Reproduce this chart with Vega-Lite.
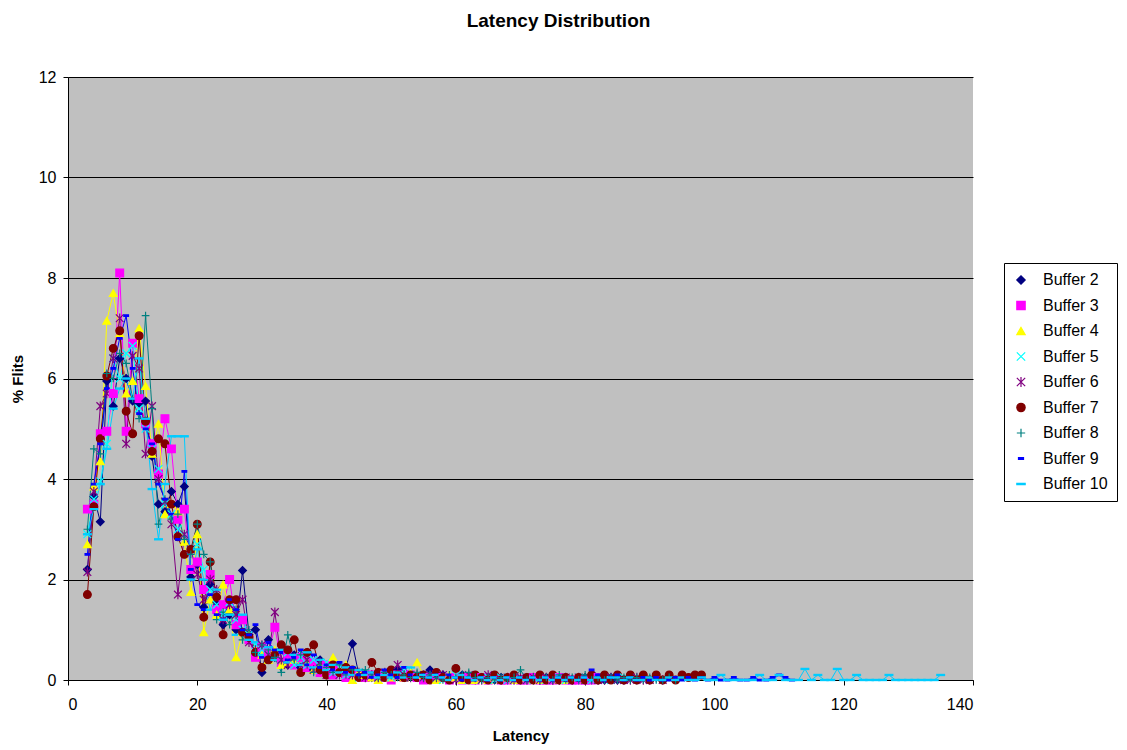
{
  "$schema": "https://vega.github.io/schema/vega-lite/v6.json",
  "width": 905,
  "height": 603,
  "autosize": {"type": "none"},
  "padding": {"left": 68, "top": 77, "right": 154, "bottom": 70},
  "background": "white",
  "title": {"text": "Latency Distribution", "font": "Liberation Sans", "fontSize": 19, "fontWeight": "bold", "color": "black", "anchor": "middle", "dx": 38, "offset": 38},
  "data": {"values": [
    {"L":3,"Buffer 2":2.2,"Buffer 3":3.4,"Buffer 4":2.7,"Buffer 5":2.9,"Buffer 6":2.15,"Buffer 7":1.7,"Buffer 8":3.0,"Buffer 9":2.5,"Buffer 10":2.9},
    {"L":4,"Buffer 2":3.65,"Buffer 3":3.5,"Buffer 4":3.85,"Buffer 5":3.6,"Buffer 6":3.75,"Buffer 7":3.45,"Buffer 8":4.6,"Buffer 9":3.9,"Buffer 10":3.4},
    {"L":5,"Buffer 2":3.15,"Buffer 3":4.9,"Buffer 4":4.35,"Buffer 5":3.95,"Buffer 6":5.45,"Buffer 7":4.8,"Buffer 8":4.5,"Buffer 9":4.7,"Buffer 10":3.9},
    {"L":6,"Buffer 2":5.95,"Buffer 3":4.95,"Buffer 4":7.15,"Buffer 5":4.7,"Buffer 6":5.7,"Buffer 7":6.05,"Buffer 8":6.1,"Buffer 9":5.8,"Buffer 10":4.6},
    {"L":7,"Buffer 2":5.45,"Buffer 3":5.7,"Buffer 4":7.7,"Buffer 5":6.4,"Buffer 6":6.4,"Buffer 7":6.6,"Buffer 8":6.0,"Buffer 9":6.2,"Buffer 10":5.4},
    {"L":8,"Buffer 2":6.4,"Buffer 3":8.1,"Buffer 4":6.9,"Buffer 5":6.0,"Buffer 6":7.2,"Buffer 7":6.95,"Buffer 8":6.5,"Buffer 9":6.8,"Buffer 10":5.8},
    {"L":9,"Buffer 2":6.0,"Buffer 3":4.95,"Buffer 4":5.7,"Buffer 5":6.5,"Buffer 6":4.7,"Buffer 7":5.35,"Buffer 8":6.3,"Buffer 9":7.25,"Buffer 10":6.0},
    {"L":10,"Buffer 2":5.55,"Buffer 3":6.7,"Buffer 4":5.95,"Buffer 5":6.65,"Buffer 6":6.45,"Buffer 7":4.9,"Buffer 8":5.6,"Buffer 9":6.2,"Buffer 10":5.6},
    {"L":11,"Buffer 2":5.5,"Buffer 3":5.6,"Buffer 4":7.0,"Buffer 5":5.4,"Buffer 6":6.2,"Buffer 7":6.85,"Buffer 8":5.2,"Buffer 9":5.3,"Buffer 10":6.4},
    {"L":12,"Buffer 2":5.55,"Buffer 3":5.1,"Buffer 4":5.85,"Buffer 5":5.0,"Buffer 6":4.5,"Buffer 7":5.15,"Buffer 8":7.25,"Buffer 9":5.0,"Buffer 10":5.2},
    {"L":13,"Buffer 2":4.45,"Buffer 3":4.7,"Buffer 4":4.5,"Buffer 5":4.6,"Buffer 6":5.45,"Buffer 7":4.55,"Buffer 8":5.4,"Buffer 9":4.7,"Buffer 10":3.8},
    {"L":14,"Buffer 2":3.5,"Buffer 3":4.1,"Buffer 4":5.1,"Buffer 5":4.2,"Buffer 6":4.0,"Buffer 7":4.8,"Buffer 8":3.1,"Buffer 9":3.9,"Buffer 10":2.8},
    {"L":15,"Buffer 2":3.35,"Buffer 3":5.2,"Buffer 4":3.3,"Buffer 5":3.5,"Buffer 6":3.55,"Buffer 7":4.7,"Buffer 8":3.6,"Buffer 9":3.6,"Buffer 10":3.9},
    {"L":16,"Buffer 2":3.75,"Buffer 3":4.6,"Buffer 4":3.5,"Buffer 5":3.3,"Buffer 6":3.1,"Buffer 7":3.5,"Buffer 8":3.2,"Buffer 9":3.3,"Buffer 10":4.85},
    {"L":17,"Buffer 2":3.5,"Buffer 3":3.2,"Buffer 4":3.35,"Buffer 5":3.0,"Buffer 6":1.7,"Buffer 7":2.85,"Buffer 8":3.3,"Buffer 9":2.8,"Buffer 10":4.85},
    {"L":18,"Buffer 2":3.85,"Buffer 3":3.4,"Buffer 4":2.75,"Buffer 5":2.9,"Buffer 6":2.9,"Buffer 7":2.5,"Buffer 8":2.8,"Buffer 9":4.15,"Buffer 10":4.85},
    {"L":19,"Buffer 2":2.05,"Buffer 3":2.2,"Buffer 4":1.75,"Buffer 5":2.6,"Buffer 6":2.6,"Buffer 7":2.6,"Buffer 8":2.5,"Buffer 9":2.2,"Buffer 10":2.0},
    {"L":20,"Buffer 2":2.3,"Buffer 3":2.35,"Buffer 4":2.9,"Buffer 5":2.7,"Buffer 6":2.1,"Buffer 7":3.1,"Buffer 8":3.1,"Buffer 9":1.5,"Buffer 10":2.6},
    {"L":21,"Buffer 2":1.45,"Buffer 3":1.8,"Buffer 4":0.95,"Buffer 5":2.2,"Buffer 6":1.6,"Buffer 7":1.25,"Buffer 8":2.5,"Buffer 9":1.4,"Buffer 10":2.0},
    {"L":22,"Buffer 2":1.9,"Buffer 3":2.1,"Buffer 4":1.6,"Buffer 5":1.8,"Buffer 6":2.0,"Buffer 7":2.35,"Buffer 8":2.35,"Buffer 9":1.7,"Buffer 10":1.4},
    {"L":23,"Buffer 2":1.55,"Buffer 3":1.4,"Buffer 4":1.3,"Buffer 5":1.5,"Buffer 6":1.8,"Buffer 7":1.65,"Buffer 8":1.2,"Buffer 9":1.3,"Buffer 10":1.8},
    {"L":24,"Buffer 2":1.1,"Buffer 3":1.5,"Buffer 4":1.9,"Buffer 5":1.3,"Buffer 6":1.2,"Buffer 7":0.9,"Buffer 8":1.35,"Buffer 9":1.2,"Buffer 10":1.2},
    {"L":25,"Buffer 2":1.3,"Buffer 3":2.0,"Buffer 4":1.4,"Buffer 5":1.55,"Buffer 6":1.5,"Buffer 7":1.6,"Buffer 8":1.1,"Buffer 9":1.6,"Buffer 10":1.3},
    {"L":26,"Buffer 2":1.0,"Buffer 3":1.1,"Buffer 4":0.45,"Buffer 5":1.2,"Buffer 6":1.3,"Buffer 7":1.6,"Buffer 8":1.4,"Buffer 9":1.4,"Buffer 10":0.9},
    {"L":27,"Buffer 2":2.18,"Buffer 3":1.2,"Buffer 4":0.95,"Buffer 5":1.0,"Buffer 6":1.6,"Buffer 7":0.95,"Buffer 8":0.8,"Buffer 9":1.0,"Buffer 10":1.3},
    {"L":28,"Buffer 2":0.9,"Buffer 3":0.8,"Buffer 4":0.9,"Buffer 5":0.9,"Buffer 6":0.75,"Buffer 7":0.85,"Buffer 8":1.0,"Buffer 9":0.9,"Buffer 10":0.8},
    {"L":29,"Buffer 2":1.0,"Buffer 3":0.45,"Buffer 4":0.6,"Buffer 5":0.7,"Buffer 6":0.6,"Buffer 7":0.55,"Buffer 8":0.55,"Buffer 9":1.1,"Buffer 10":0.75},
    {"L":30,"Buffer 2":0.15,"Buffer 3":0.65,"Buffer 4":0.5,"Buffer 5":0.6,"Buffer 6":0.7,"Buffer 7":0.25,"Buffer 8":0.7,"Buffer 9":0.45,"Buffer 10":0.5},
    {"L":31,"Buffer 2":0.8,"Buffer 3":0.55,"Buffer 4":0.4,"Buffer 5":0.5,"Buffer 6":0.5,"Buffer 7":0.4,"Buffer 8":0.6,"Buffer 9":0.75,"Buffer 10":0.65},
    {"L":32,"Buffer 2":0.45,"Buffer 3":1.05,"Buffer 4":0.6,"Buffer 5":0.55,"Buffer 6":1.35,"Buffer 7":0.5,"Buffer 8":0.45,"Buffer 9":0.6,"Buffer 10":0.4},
    {"L":33,"Buffer 2":0.6,"Buffer 3":0.35,"Buffer 4":0.3,"Buffer 5":0.4,"Buffer 6":0.4,"Buffer 7":0.7,"Buffer 8":0.15,"Buffer 9":0.55,"Buffer 10":0.6},
    {"L":34,"Buffer 2":0.3,"Buffer 3":0.5,"Buffer 4":0.35,"Buffer 5":0.55,"Buffer 6":0.3,"Buffer 7":0.6,"Buffer 8":0.9,"Buffer 9":0.4,"Buffer 10":0.35},
    {"L":35,"Buffer 2":0.5,"Buffer 3":0.3,"Buffer 4":0.4,"Buffer 5":0.3,"Buffer 6":0.45,"Buffer 7":0.8,"Buffer 8":0.4,"Buffer 9":0.45,"Buffer 10":0.5},
    {"L":36,"Buffer 2":0.25,"Buffer 3":0.45,"Buffer 4":0.2,"Buffer 5":0.45,"Buffer 6":0.25,"Buffer 7":0.15,"Buffer 8":0.5,"Buffer 9":0.6,"Buffer 10":0.3},
    {"L":37,"Buffer 2":0.55,"Buffer 3":0.25,"Buffer 4":0.35,"Buffer 5":0.3,"Buffer 6":0.4,"Buffer 7":0.55,"Buffer 8":0.3,"Buffer 9":0.3,"Buffer 10":0.55},
    {"L":38,"Buffer 2":0.2,"Buffer 3":0.35,"Buffer 4":0.2,"Buffer 5":0.4,"Buffer 6":0.2,"Buffer 7":0.7,"Buffer 8":0.15,"Buffer 9":0.5,"Buffer 10":0.25},
    {"L":39,"Buffer 2":0.4,"Buffer 3":0.15,"Buffer 4":0.3,"Buffer 5":0.2,"Buffer 6":0.35,"Buffer 7":0.2,"Buffer 8":0.3,"Buffer 9":0.25,"Buffer 10":0.4},
    {"L":40,"Buffer 2":0.2,"Buffer 3":0.3,"Buffer 4":0.15,"Buffer 5":0.35,"Buffer 6":0.1,"Buffer 7":0.1,"Buffer 8":0.25,"Buffer 9":0.3,"Buffer 10":0.2},
    {"L":41,"Buffer 2":0.3,"Buffer 3":0.1,"Buffer 4":0.45,"Buffer 5":0.15,"Buffer 6":0.25,"Buffer 7":0.3,"Buffer 8":0.15,"Buffer 9":0.2,"Buffer 10":0.3},
    {"L":42,"Buffer 2":0.15,"Buffer 3":0.2,"Buffer 4":0.2,"Buffer 5":0.25,"Buffer 6":0.1,"Buffer 7":0.15,"Buffer 8":0.3,"Buffer 9":0.35,"Buffer 10":0.15},
    {"L":43,"Buffer 2":0.25,"Buffer 3":0.05,"Buffer 4":0.3,"Buffer 5":0.1,"Buffer 6":0.2,"Buffer 7":0.25,"Buffer 8":0.1,"Buffer 9":0.15,"Buffer 10":0.25},
    {"L":44,"Buffer 2":0.72,"Buffer 3":0.15,"Buffer 4":0.0,"Buffer 5":0.2,"Buffer 6":0.1,"Buffer 7":0.2,"Buffer 8":0.2,"Buffer 9":0.25,"Buffer 10":0.1},
    {"L":45,"Buffer 2":0.1,"Buffer 3":0.1,"Buffer 4":0.15,"Buffer 5":0.05,"Buffer 6":0.15,"Buffer 7":0.05,"Buffer 8":0.1,"Buffer 9":0.1,"Buffer 10":0.2},
    {"L":46,"Buffer 2":0.1,"Buffer 3":0.05,"Buffer 4":0.1,"Buffer 5":0.15,"Buffer 6":0.05,"Buffer 7":0.1,"Buffer 8":0.2,"Buffer 9":0.15,"Buffer 10":0.1},
    {"L":47,"Buffer 2":0.05,"Buffer 3":0.1,"Buffer 4":0.05,"Buffer 5":0.1,"Buffer 6":0.1,"Buffer 7":0.35,"Buffer 8":0.1,"Buffer 9":0.05,"Buffer 10":0.15},
    {"L":48,"Buffer 2":0.15,"Buffer 3":0.05,"Buffer 4":0.0,"Buffer 5":0.05,"Buffer 6":0.05,"Buffer 7":0.15,"Buffer 8":0.05,"Buffer 9":0.1,"Buffer 10":0.05},
    {"L":49,"Buffer 2":0.1,"Buffer 3":0.1,"Buffer 4":0.1,"Buffer 5":0.1,"Buffer 6":0.15,"Buffer 7":0.05,"Buffer 8":0.15,"Buffer 9":0.2,"Buffer 10":0.1},
    {"L":50,"Buffer 2":0.05,"Buffer 3":0.0,"Buffer 4":0.05,"Buffer 5":0.05,"Buffer 6":0.1,"Buffer 7":0.2,"Buffer 8":0.1,"Buffer 9":0.1,"Buffer 10":0.05},
    {"L":51,"Buffer 2":0.22,"Buffer 3":0.1,"Buffer 4":0.1,"Buffer 5":0.1,"Buffer 6":0.3,"Buffer 7":0.1,"Buffer 8":0.05,"Buffer 9":0.05,"Buffer 10":0.15},
    {"L":52,"Buffer 2":0.05,"Buffer 3":0.05,"Buffer 4":0.05,"Buffer 5":0.2,"Buffer 6":0.1,"Buffer 7":0.05,"Buffer 8":0.1,"Buffer 9":0.25,"Buffer 10":0.05},
    {"L":53,"Buffer 2":0.1,"Buffer 3":0.1,"Buffer 4":0.15,"Buffer 5":0.05,"Buffer 6":0.05,"Buffer 7":0.1,"Buffer 8":0.05,"Buffer 9":0.1,"Buffer 10":0.25},
    {"L":54,"Buffer 2":0.05,"Buffer 3":0.05,"Buffer 4":0.35,"Buffer 5":0.1,"Buffer 6":0.1,"Buffer 7":0.05,"Buffer 8":0.15,"Buffer 9":0.05,"Buffer 10":0.05},
    {"L":55,"Buffer 2":0.1,"Buffer 3":0.0,"Buffer 4":0.1,"Buffer 5":0.05,"Buffer 6":0.05,"Buffer 7":0.1,"Buffer 8":0.05,"Buffer 9":0.1,"Buffer 10":0.1},
    {"L":56,"Buffer 2":0.2,"Buffer 3":0.05,"Buffer 4":0.05,"Buffer 5":0.1,"Buffer 6":0.1,"Buffer 7":0.0,"Buffer 8":0.1,"Buffer 9":0.05,"Buffer 10":0.05},
    {"L":57,"Buffer 2":0.05,"Buffer 3":0.1,"Buffer 4":0.0,"Buffer 5":0.05,"Buffer 6":0.05,"Buffer 7":0.15,"Buffer 8":0.05,"Buffer 9":0.1,"Buffer 10":0.1},
    {"L":58,"Buffer 2":0.1,"Buffer 3":0.05,"Buffer 4":0.05,"Buffer 5":0.0,"Buffer 6":0.1,"Buffer 7":0.05,"Buffer 8":0.0,"Buffer 9":0.05,"Buffer 10":0.05},
    {"L":59,"Buffer 2":0.05,"Buffer 3":0.0,"Buffer 4":0.1,"Buffer 5":0.05,"Buffer 6":0.05,"Buffer 7":0.0,"Buffer 8":0.1,"Buffer 9":0.1,"Buffer 10":0.0},
    {"L":60,"Buffer 2":0.05,"Buffer 3":0.05,"Buffer 4":0.05,"Buffer 5":0.1,"Buffer 6":0.0,"Buffer 7":0.23,"Buffer 8":0.05,"Buffer 9":0.05,"Buffer 10":0.05},
    {"L":61,"Buffer 2":0.1,"Buffer 3":0.0,"Buffer 4":0.0,"Buffer 5":0.05,"Buffer 6":0.05,"Buffer 7":0.05,"Buffer 8":0.1,"Buffer 9":0.0,"Buffer 10":0.1},
    {"L":62,"Buffer 2":0.05,"Buffer 3":0.05,"Buffer 4":0.05,"Buffer 5":0.0,"Buffer 6":0.1,"Buffer 7":0.0,"Buffer 8":0.15,"Buffer 9":0.05,"Buffer 10":0.05},
    {"L":63,"Buffer 2":0.0,"Buffer 3":0.0,"Buffer 4":0.0,"Buffer 5":0.05,"Buffer 6":0.05,"Buffer 7":0.1,"Buffer 8":0.05,"Buffer 9":0.0,"Buffer 10":0.0},
    {"L":64,"Buffer 2":0.05,"Buffer 3":0.05,"Buffer 4":0.05,"Buffer 5":0.0,"Buffer 6":0.0,"Buffer 7":0.05,"Buffer 8":0.0,"Buffer 9":0.05,"Buffer 10":0.05},
    {"L":65,"Buffer 2":0.05,"Buffer 3":0.0,"Buffer 4":0.0,"Buffer 5":0.05,"Buffer 6":0.1,"Buffer 7":0.0,"Buffer 8":0.05,"Buffer 9":0.0,"Buffer 10":0.0},
    {"L":66,"Buffer 2":0.0,"Buffer 3":0.05,"Buffer 4":0.05,"Buffer 5":0.0,"Buffer 6":0.05,"Buffer 7":0.1,"Buffer 8":0.0,"Buffer 9":0.05,"Buffer 10":0.05},
    {"L":67,"Buffer 2":0.05,"Buffer 3":0.0,"Buffer 4":0.0,"Buffer 5":0.05,"Buffer 6":0.0,"Buffer 7":0.0,"Buffer 8":0.05,"Buffer 9":0.0,"Buffer 10":0.0},
    {"L":68,"Buffer 2":0.0,"Buffer 3":0.0,"Buffer 4":0.05,"Buffer 5":0.0,"Buffer 6":0.05,"Buffer 7":0.05,"Buffer 8":0.0,"Buffer 9":0.05,"Buffer 10":0.05},
    {"L":69,"Buffer 2":0.05,"Buffer 3":0.05,"Buffer 4":0.0,"Buffer 5":0.0,"Buffer 6":0.0,"Buffer 7":0.1,"Buffer 8":0.05,"Buffer 9":0.0,"Buffer 10":0.0},
    {"L":70,"Buffer 2":0.0,"Buffer 3":0.0,"Buffer 4":0.0,"Buffer 5":0.05,"Buffer 6":0.05,"Buffer 7":0.0,"Buffer 8":0.2,"Buffer 9":0.05,"Buffer 10":0.05},
    {"L":71,"Buffer 2":0.05,"Buffer 3":0.0,"Buffer 4":0.05,"Buffer 5":0.0,"Buffer 6":0.0,"Buffer 7":0.05,"Buffer 8":0.0,"Buffer 9":0.0,"Buffer 10":0.0},
    {"L":72,"Buffer 2":0.0,"Buffer 3":0.05,"Buffer 4":0.0,"Buffer 5":0.0,"Buffer 6":0.05,"Buffer 7":0.0,"Buffer 8":0.05,"Buffer 9":0.05,"Buffer 10":0.05},
    {"L":73,"Buffer 2":0.0,"Buffer 3":0.0,"Buffer 4":0.0,"Buffer 5":0.05,"Buffer 6":0.0,"Buffer 7":0.1,"Buffer 8":0.0,"Buffer 9":0.0,"Buffer 10":0.0},
    {"L":74,"Buffer 2":0.05,"Buffer 3":0.0,"Buffer 4":0.0,"Buffer 5":0.0,"Buffer 6":0.05,"Buffer 7":0.0,"Buffer 8":0.05,"Buffer 9":0.05,"Buffer 10":0.05},
    {"L":75,"Buffer 2":0.0,"Buffer 3":0.0,"Buffer 4":0.05,"Buffer 5":0.0,"Buffer 6":0.0,"Buffer 7":0.1,"Buffer 8":0.0,"Buffer 9":0.0,"Buffer 10":0.0},
    {"L":76,"Buffer 2":0.0,"Buffer 3":0.05,"Buffer 4":0.0,"Buffer 5":0.05,"Buffer 6":0.0,"Buffer 7":0.0,"Buffer 8":0.1,"Buffer 9":0.05,"Buffer 10":0.05},
    {"L":77,"Buffer 2":0.05,"Buffer 3":0.0,"Buffer 4":0.0,"Buffer 5":0.0,"Buffer 6":0.05,"Buffer 7":0.05,"Buffer 8":0.0,"Buffer 9":0.0,"Buffer 10":0.0},
    {"L":78,"Buffer 2":0.0,"Buffer 3":0.0,"Buffer 4":0.0,"Buffer 5":0.0,"Buffer 6":0.0,"Buffer 7":0.0,"Buffer 8":0.05,"Buffer 9":0.05,"Buffer 10":0.05},
    {"L":79,"Buffer 2":0.0,"Buffer 3":0.0,"Buffer 4":0.05,"Buffer 5":0.05,"Buffer 6":0.05,"Buffer 7":0.05,"Buffer 8":0.0,"Buffer 9":0.0,"Buffer 10":0.0},
    {"L":80,"Buffer 2":0.05,"Buffer 3":0.0,"Buffer 4":0.0,"Buffer 5":0.0,"Buffer 6":0.0,"Buffer 7":0.0,"Buffer 8":0.1,"Buffer 9":0.05,"Buffer 10":0.05},
    {"L":81,"Buffer 2":0.0,"Buffer 3":0.0,"Buffer 5":0.0,"Buffer 6":0.05,"Buffer 7":0.1,"Buffer 8":0.0,"Buffer 9":0.2,"Buffer 10":0.0},
    {"L":82,"Buffer 2":0.0,"Buffer 3":0.05,"Buffer 5":0.0,"Buffer 6":0.0,"Buffer 7":0.0,"Buffer 8":0.05,"Buffer 9":0.1,"Buffer 10":0.05},
    {"L":83,"Buffer 2":0.0,"Buffer 5":0.05,"Buffer 6":0.0,"Buffer 7":0.1,"Buffer 8":0.0,"Buffer 9":0.0,"Buffer 10":0.0},
    {"L":84,"Buffer 2":0.05,"Buffer 5":0.0,"Buffer 6":0.05,"Buffer 7":0.0,"Buffer 8":0.05,"Buffer 9":0.05,"Buffer 10":0.05},
    {"L":85,"Buffer 2":0.0,"Buffer 5":0.0,"Buffer 6":0.0,"Buffer 7":0.1,"Buffer 8":0.0,"Buffer 9":0.1,"Buffer 10":0.05},
    {"L":86,"Buffer 2":0.0,"Buffer 5":0.05,"Buffer 6":0.0,"Buffer 7":0.0,"Buffer 8":0.05,"Buffer 9":0.0,"Buffer 10":0.0},
    {"L":87,"Buffer 2":0.05,"Buffer 6":0.0,"Buffer 7":0.1,"Buffer 8":0.0,"Buffer 9":0.05,"Buffer 10":0.05},
    {"L":88,"Buffer 2":0.0,"Buffer 6":0.05,"Buffer 7":0.0,"Buffer 8":0.05,"Buffer 9":0.0,"Buffer 10":0.0},
    {"L":89,"Buffer 6":0.0,"Buffer 7":0.1,"Buffer 8":0.0,"Buffer 9":0.05,"Buffer 10":0.0},
    {"L":90,"Buffer 6":0.0,"Buffer 7":0.0,"Buffer 8":0.05,"Buffer 9":0.0,"Buffer 10":0.05},
    {"L":91,"Buffer 6":0.05,"Buffer 7":0.1,"Buffer 8":0.0,"Buffer 9":0.05,"Buffer 10":0.0},
    {"L":92,"Buffer 6":0.0,"Buffer 7":0.0,"Buffer 8":0.0,"Buffer 9":0.0,"Buffer 10":0.0},
    {"L":93,"Buffer 7":0.1,"Buffer 8":0.05,"Buffer 9":0.0,"Buffer 10":0.05},
    {"L":94,"Buffer 7":0.0,"Buffer 8":0.0,"Buffer 9":0.05,"Buffer 10":0.0},
    {"L":95,"Buffer 7":0.1,"Buffer 9":0.0,"Buffer 10":0.05},
    {"L":96,"Buffer 7":0.05,"Buffer 9":0.05,"Buffer 10":0.0},
    {"L":97,"Buffer 7":0.1,"Buffer 9":0.0,"Buffer 10":0.0},
    {"L":98,"Buffer 7":0.1,"Buffer 9":0.05,"Buffer 10":0.05},
    {"L":99,"Buffer 9":0.0,"Buffer 10":0.0},
    {"L":100,"Buffer 9":0.05,"Buffer 10":0.0},
    {"L":101,"Buffer 9":0.0,"Buffer 10":0.1},
    {"L":102,"Buffer 9":0.0,"Buffer 10":0.0},
    {"L":103,"Buffer 9":0.05,"Buffer 10":0.0},
    {"L":104,"Buffer 9":0.0,"Buffer 10":0.0},
    {"L":105,"Buffer 9":0.0,"Buffer 10":0.0},
    {"L":106,"Buffer 9":0.05,"Buffer 10":0.0},
    {"L":107,"Buffer 9":0.0,"Buffer 10":0.1},
    {"L":108,"Buffer 9":0.0,"Buffer 10":0.0},
    {"L":109,"Buffer 9":0.05,"Buffer 10":0.0},
    {"L":110,"Buffer 9":0.1,"Buffer 10":0.1},
    {"L":111,"Buffer 9":0.05,"Buffer 10":0.0},
    {"L":112,"Buffer 9":0.0,"Buffer 10":0.0},
    {"L":113,"Buffer 10":0.0},
    {"L":114,"Buffer 10":0.22},
    {"L":115,"Buffer 10":0.0},
    {"L":116,"Buffer 10":0.1},
    {"L":117,"Buffer 10":0.0},
    {"L":118,"Buffer 10":0.0},
    {"L":119,"Buffer 10":0.22},
    {"L":120,"Buffer 10":0.0},
    {"L":121,"Buffer 10":0.0},
    {"L":122,"Buffer 10":0.1},
    {"L":123,"Buffer 10":0.0},
    {"L":124,"Buffer 10":0.0},
    {"L":125,"Buffer 10":0.0},
    {"L":126,"Buffer 10":0.0},
    {"L":127,"Buffer 10":0.1},
    {"L":128,"Buffer 10":0.0},
    {"L":129,"Buffer 10":0.0},
    {"L":130,"Buffer 10":0.0},
    {"L":131,"Buffer 10":0.0},
    {"L":132,"Buffer 10":0.0},
    {"L":133,"Buffer 10":0.0},
    {"L":134,"Buffer 10":0.0},
    {"L":135,"Buffer 10":0.1}
  ]},
  "transform": [
    {"fold": ["Buffer 2","Buffer 3","Buffer 4","Buffer 5","Buffer 6","Buffer 7","Buffer 8","Buffer 9","Buffer 10"], "as": ["series","v"]},
    {"filter": "isValid(datum.v)"}
  ],
  "encoding": {
    "x": {"field": "L", "type": "quantitative", "title": "Latency",
      "scale": {"domain": [0, 140], "nice": false, "zero": true},
      "axis": {"values": [0,20,40,60,80,100,120,140], "grid": false, "labelPadding": 11, "titlePadding": 16}},
    "y": {"field": "v", "type": "quantitative", "title": "% Flits",
      "scale": {"domain": [0, 12], "nice": false},
      "axis": {"values": [0,2,4,6,8,10,12], "grid": true, "labelPadding": 7, "titlePadding": 13}}
  },
  "layer": [
    {
      "mark": {"type": "line", "strokeWidth": 1, "interpolate": "linear"},
      "encoding": {
        "stroke": {"field": "series", "type": "nominal",
          "scale": {"domain": ["Buffer 2","Buffer 3","Buffer 4","Buffer 5","Buffer 6","Buffer 7","Buffer 8","Buffer 9","Buffer 10"],
                    "range": ["#000080","#FF00FF","#FFFF00","#00FFFF","#800080","#800000","#008080","#0000FF","#00CCFF"]},
          "legend": {"title": null}}
      }
    },
    {
      "mark": {"type": "point", "filled": true, "size": 60, "strokeWidth": 1.2, "opacity": 1},
      "encoding": {
        "fill": {"field": "series", "type": "nominal",
          "scale": {"domain": ["Buffer 2","Buffer 3","Buffer 4","Buffer 5","Buffer 6","Buffer 7","Buffer 8","Buffer 9","Buffer 10"],
                    "range": ["#000080","#FF00FF","#FFFF00","#00FFFF","#800080","#800000","#008080","#0000FF","#00CCFF"]},
          "legend": {"title": null}},
        "stroke": {"field": "series", "type": "nominal", "legend": {"title": null}},
        "shape": {"field": "series", "type": "nominal",
          "scale": {"domain": ["Buffer 2","Buffer 3","Buffer 4","Buffer 5","Buffer 6","Buffer 7","Buffer 8","Buffer 9","Buffer 10"],
                    "range": ["diamond","square","triangle-up","M-1,-1L1,1M-1,1L1,-1","M-1,-1L1,1M-1,1L1,-1M0,-1.2L0,1.2","circle","M-1,0L1,0M0,-1L0,1","M-0.6,-0.2L0.6,-0.2L0.6,0.2L-0.6,0.2Z","M-1,-0.15L1,-0.15L1,0.15L-1,0.15Z"]},
          "legend": {"title": null}}
      }
    }
  ],
  "config": {
    "font": "Liberation Sans",
    "view": {"fill": "#C0C0C0", "stroke": null},
    "axis": {
      "domainColor": "black", "tickColor": "black", "gridColor": "black", "gridWidth": 1,
      "labelFont": "Liberation Sans", "labelFontSize": 16, "labelColor": "black",
      "titleFont": "Liberation Sans", "titleFontSize": 15, "titleFontWeight": "bold", "titleColor": "black",
      "tickSize": 5
    },
    "legend": {
      "orient": "none", "legendX": 936, "legendY": 186,
      "fillColor": "white", "strokeColor": "black", "padding": 9,
      "labelFont": "Liberation Sans", "labelFontSize": 16, "labelColor": "black",
      "rowPadding": 9.5, "symbolSize": 70, "symbolStrokeWidth": 1.2, "labelOffset": 14,
      "symbolOpacity": 1
    }
  }
}
